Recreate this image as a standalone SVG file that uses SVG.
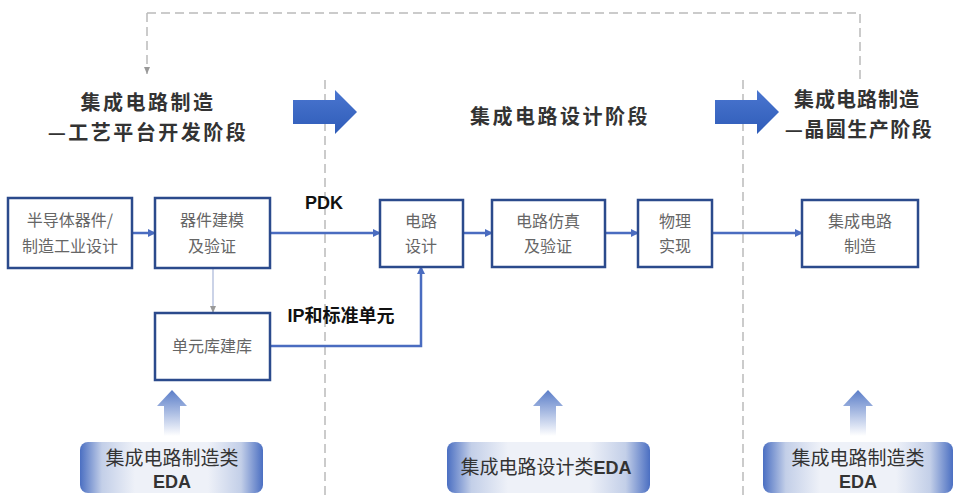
<svg xmlns="http://www.w3.org/2000/svg" width="955" height="498" viewBox="0 0 955 498">
<defs>
<style>
.title{font-family:"Noto Sans CJK SC","Liberation Sans",sans-serif;font-size:20px;font-weight:bold;fill:#333;text-anchor:middle;letter-spacing:2.5px}
.box{fill:#fff;stroke:#2b4a8c;stroke-width:2.5}
.bt{font-family:"Noto Sans CJK SC","Liberation Sans",sans-serif;font-size:16px;fill:#666;text-anchor:middle}
.lbl{font-family:"Liberation Sans","Noto Sans CJK SC",sans-serif;font-size:18px;font-weight:bold;fill:#111;text-anchor:middle}
.eda{font-family:"Noto Sans CJK SC","Liberation Sans",sans-serif;font-size:19px;fill:#333;text-anchor:middle}
.edab{font-family:"Liberation Sans",sans-serif;font-size:18px;font-weight:bold;fill:#333;text-anchor:middle}
.conn{fill:none;stroke:#4a6cc0;stroke-width:2.5}
.dash{fill:none;stroke:#bbb;stroke-width:1.5;stroke-dasharray:9 5}
</style>
<marker id="ah" markerWidth="8" markerHeight="8" refX="7" refY="4" orient="auto" markerUnits="userSpaceOnUse">
<path d="M0,0 L8,4 L0,8 z" fill="#4a6cc0"/>
</marker>
<marker id="ahg" markerWidth="8" markerHeight="8" refX="7" refY="4" orient="auto" markerUnits="userSpaceOnUse">
<path d="M0,1 L7,4 L0,7 z" fill="#999"/>
</marker>
<linearGradient id="edag" x1="0" y1="0" x2="1" y2="0">
<stop offset="0" stop-color="#4b6fc2"/>
<stop offset="0.12" stop-color="#c3cfe8"/>
<stop offset="0.3" stop-color="#eef1f8"/>
<stop offset="0.7" stop-color="#eef1f8"/>
<stop offset="0.88" stop-color="#c3cfe8"/>
<stop offset="1" stop-color="#4b6fc2"/>
</linearGradient>
<linearGradient id="upg" x1="0" y1="0" x2="0" y2="1">
<stop offset="0" stop-color="#5a7dc8"/>
<stop offset="1" stop-color="#5a7dc8" stop-opacity="0"/>
</linearGradient>
<linearGradient id="bag" x1="0" y1="0" x2="0" y2="1">
<stop offset="0" stop-color="#4a76d0"/>
<stop offset="1" stop-color="#2f5cb8"/>
</linearGradient>
<path id="bigarrow" d="M0,10 L42,10 L42,0 L64,22 L42,44 L42,34 L0,34 z"/>
<path id="uparrow" d="M0,0 L15,16 L8,16 L8,46 L-8,46 L-8,16 L-15,16 z"/>
</defs>
<rect width="955" height="498" fill="#fff"/>

<g id="frame">
<path class="dash" d="M147,13 L860,13 L860,80"/>
<path class="dash" d="M147,13 L147,74" marker-end="url(#ahg)"/>
<line class="dash" x1="325" y1="80" x2="325" y2="498"/>
<line class="dash" x1="743" y1="80" x2="743" y2="498"/>
</g>

<g id="titles">
<text class="title" x="148" y="110">集成电路制造</text>
<text class="title" x="148" y="140">—工艺平台开发阶段</text>
<text class="title" x="560" y="124">集成电路设计阶段</text>
<text class="title" x="857" y="107" style="letter-spacing:1px">集成电路制造</text>
<text class="title" x="859" y="137" style="letter-spacing:1.5px">—晶圆生产阶段</text>
<use href="#bigarrow" x="293" y="90" fill="url(#bag)"/>
<use href="#bigarrow" x="715" y="90" fill="url(#bag)"/>
</g>

<g id="connectors">
<line class="conn" x1="132" y1="233" x2="155" y2="233" marker-end="url(#ah)"/>
<line class="conn" x1="270" y1="233" x2="380" y2="233" marker-end="url(#ah)"/>
<line class="conn" x1="463" y1="233" x2="492" y2="233" marker-end="url(#ah)"/>
<line class="conn" x1="605" y1="233" x2="638" y2="233" marker-end="url(#ah)"/>
<line class="conn" x1="712" y1="233" x2="802" y2="233" marker-end="url(#ah)"/>
<line x1="213" y1="268" x2="213" y2="313" stroke="#a8b6d8" stroke-width="1.2" marker-end="url(#ahg)"/>
<path class="conn" d="M270,346 L421,346 L421,267" marker-end="url(#ah)"/>
<text class="lbl" x="324" y="209">PDK</text>
<text class="lbl" x="341" y="322">IP和标准单元</text>
</g>

<g id="n1"><rect class="box" x="8" y="198" width="124" height="70"/>
<text class="bt" x="70" y="226">半导体器件/</text><text class="bt" x="70" y="252">制造工业设计</text></g>
<g id="n2"><rect class="box" x="155" y="198" width="115" height="70"/>
<text class="bt" x="212" y="226">器件建模</text><text class="bt" x="212" y="252">及验证</text></g>
<g id="n3"><rect class="box" x="380" y="200" width="83" height="67"/>
<text class="bt" x="421" y="227">电路</text><text class="bt" x="421" y="252">设计</text></g>
<g id="n4"><rect class="box" x="492" y="200" width="113" height="67"/>
<text class="bt" x="548" y="227">电路仿真</text><text class="bt" x="548" y="252">及验证</text></g>
<g id="n5"><rect class="box" x="638" y="200" width="74" height="67"/>
<text class="bt" x="675" y="227">物理</text><text class="bt" x="675" y="252">实现</text></g>
<g id="n6"><rect class="box" x="802" y="200" width="116" height="67"/>
<text class="bt" x="860" y="227">集成电路</text><text class="bt" x="860" y="252">制造</text></g>
<g id="n7"><rect class="box" x="155" y="313" width="115" height="67"/>
<text class="bt" x="212" y="352">单元库建库</text></g>

<g id="eda1">
<use href="#uparrow" x="172" y="390" fill="url(#upg)"/>
<rect x="80" y="442" width="183" height="51" rx="8" fill="url(#edag)"/>
<text class="eda" x="172" y="465">集成电路制造类</text>
<text class="edab" x="172" y="488">EDA</text>
</g>
<g id="eda2">
<use href="#uparrow" x="548" y="390" fill="url(#upg)"/>
<rect x="447" y="442" width="203" height="51" rx="8" fill="url(#edag)"/>
<text class="eda" x="546" y="474">集成电路设计类<tspan font-family="Liberation Sans" font-weight="bold" font-size="18">EDA</tspan></text>
</g>
<g id="eda3">
<use href="#uparrow" x="858" y="390" fill="url(#upg)"/>
<rect x="763" y="442" width="190" height="51" rx="8" fill="url(#edag)"/>
<text class="eda" x="858" y="465">集成电路制造类</text>
<text class="edab" x="858" y="488">EDA</text>
</g>
</svg>
